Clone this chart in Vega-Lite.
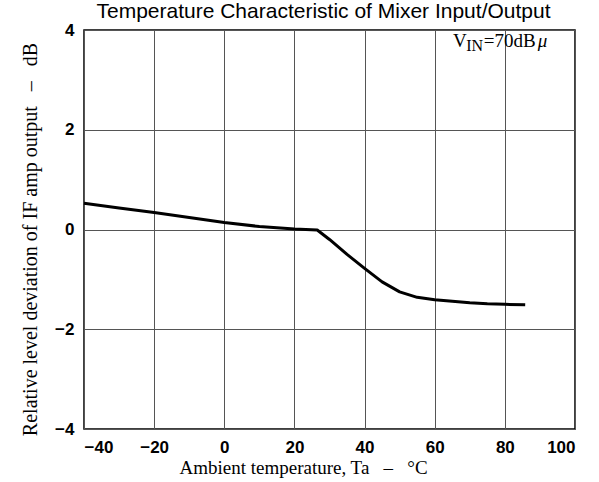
{
  "$schema": "https://vega.github.io/schema/vega-lite/v6.json",
  "width": 491,
  "height": 399,
  "autosize": "none",
  "padding": {"left": 84, "top": 30, "right": 24, "bottom": 53},
  "background": "white",
  "title": {
    "text": "Temperature Characteristic of Mixer Input/Output",
    "font": "Liberation Sans",
    "fontSize": 21,
    "fontWeight": "normal",
    "color": "black",
    "anchor": "middle",
    "baseline": "alphabetic",
    "dx": -6,
    "offset": -18
  },
  "config": {
    "view": {"stroke": "black", "strokeWidth": 1.5},
    "axis": {
      "grid": true,
      "gridColor": "#555555",
      "gridWidth": 1,
      "domain": false,
      "ticks": false,
      "labelFont": "Liberation Sans",
      "labelFontSize": 17,
      "labelFontWeight": "bold",
      "labelColor": "black",
      "labelPadding": 10,
      "titleFont": "Liberation Serif",
      "titleFontSize": 19,
      "titleFontWeight": "normal",
      "titleColor": "black"
    }
  },
  "datasets": {
    "curve": [
      {"ta": -40, "dev": 0.525},
      {"ta": -30, "dev": 0.43},
      {"ta": -20, "dev": 0.34},
      {"ta": -10, "dev": 0.24},
      {"ta": 0, "dev": 0.14},
      {"ta": 10, "dev": 0.06},
      {"ta": 20, "dev": 0.01},
      {"ta": 26.5, "dev": -0.01},
      {"ta": 30, "dev": -0.2},
      {"ta": 35, "dev": -0.5},
      {"ta": 40, "dev": -0.78},
      {"ta": 45, "dev": -1.05},
      {"ta": 50, "dev": -1.25},
      {"ta": 55, "dev": -1.36},
      {"ta": 60, "dev": -1.41},
      {"ta": 65, "dev": -1.44},
      {"ta": 70, "dev": -1.47},
      {"ta": 75, "dev": -1.49},
      {"ta": 80, "dev": -1.5},
      {"ta": 85.8, "dev": -1.51}
    ],
    "note": [
      {"ta": 65.2, "dev": 3.66, "label": "V", "part": "main"},
      {"ta": 69.0, "dev": 3.58, "label": "IN", "part": "sub"},
      {"ta": 74.0, "dev": 3.66, "label": "=70dB", "part": "main"},
      {"ta": 89.4, "dev": 3.66, "label": "μ", "part": "greek"}
    ]
  },
  "layer": [
    {
      "data": {"name": "curve"},
      "mark": {"type": "line", "color": "black", "strokeWidth": 3, "strokeJoin": "round", "strokeCap": "butt"},
      "encoding": {
        "x": {
          "field": "ta",
          "type": "quantitative",
          "scale": {"domain": [-40, 100], "nice": false, "zero": false},
          "axis": {
            "values": [-40, -20, 0, 20, 40, 60, 80, 100],
            "title": "Ambient temperature, Ta\u00a0\u00a0 – \u00a0\u00a0°C",
            "titleX": 95,
            "titleY": 44,
            "titleAlign": "left",
            "titleBaseline": "alphabetic"
          }
        },
        "y": {
          "field": "dev",
          "type": "quantitative",
          "scale": {"domain": [-4, 4], "nice": false, "zero": false},
          "axis": {
            "values": [-4, -2, 0, 2, 4],
            "title": "Relative level deviation of IF amp output\u00a0\u00a0 – \u00a0\u00a0dB",
            "titleFontSize": 20,
            "titleX": -48,
            "titleY": 209,
            "titleAngle": -90,
            "titleAlign": "center",
            "titleBaseline": "alphabetic"
          }
        }
      }
    },
    {
      "data": {"name": "note"},
      "transform": [{"filter": "datum.part == 'main'"}],
      "mark": {"type": "text", "font": "Liberation Serif", "fontSize": 19, "align": "left", "baseline": "alphabetic", "color": "black"},
      "encoding": {
        "x": {"field": "ta", "type": "quantitative"},
        "y": {"field": "dev", "type": "quantitative"},
        "text": {"field": "label"}
      }
    },
    {
      "data": {"name": "note"},
      "transform": [{"filter": "datum.part == 'sub'"}],
      "mark": {"type": "text", "font": "Liberation Serif", "fontSize": 16, "align": "left", "baseline": "alphabetic", "color": "black"},
      "encoding": {
        "x": {"field": "ta", "type": "quantitative"},
        "y": {"field": "dev", "type": "quantitative"},
        "text": {"field": "label"}
      }
    },
    {
      "data": {"name": "note"},
      "transform": [{"filter": "datum.part == 'greek'"}],
      "mark": {"type": "text", "font": "Liberation Serif", "fontSize": 19, "fontStyle": "italic", "align": "left", "baseline": "alphabetic", "color": "black"},
      "encoding": {
        "x": {"field": "ta", "type": "quantitative"},
        "y": {"field": "dev", "type": "quantitative"},
        "text": {"field": "label"}
      }
    }
  ]
}
